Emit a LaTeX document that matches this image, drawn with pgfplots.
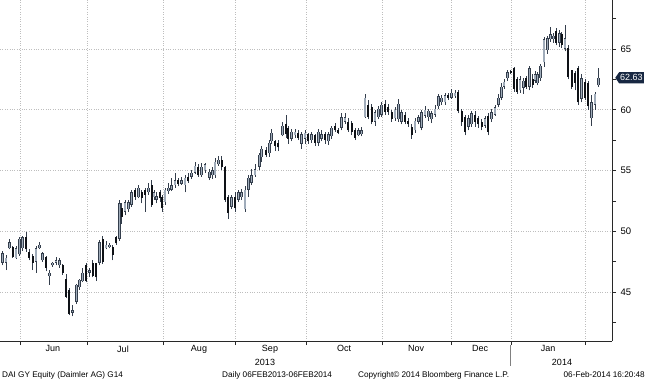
\documentclass[border=0pt]{standalone}
\usepackage{pgfplots}
\pgfplotsset{compat=1.18}
\usepackage{pgfplotstable}
\usepackage{fontspec}
\setmainfont{Liberation Sans}
\usetikzlibrary{shapes.symbols}

\definecolor{upfill}{RGB}{160,172,186}
\definecolor{upline}{RGB}{52,62,76}
\definecolor{downc}{RGB}{14,17,22}
\definecolor{gridc}{RGB}{190,190,190}
\definecolor{navy}{RGB}{24,40,66}
\definecolor{axc}{RGB}{40,40,40}

\pgfplotstableread{
x o h l c
2.7 47.4 48.4 47.2 48.2
6.0 47.4 48.05 46.8 47.8
9.3 48.6 49.4 48.5 49.1
12.7 48.7 48.8 47.8 47.9
16.0 47.8 48.8 47.7 48.6
19.3 48.1 49.5 48.0 49.4
22.7 48.6 49.6 48.4 49.5
26.0 49.5 49.9 48.3 48.5
29.3 48.3 48.5 47.6 47.8
32.7 48.0 48.1 46.8 47.4
36.0 47.5 48.8 46.6 48.6
39.3 48.6 49.1 48.5 48.9
42.7 47.6 48.3 47.5 48.2
46.0 47.9 48.0 46.7 47.0
49.3 46.3 46.8 45.6 46.6
52.7 47.2 47.5 47.1 47.4
56.0 47.4 47.9 47.2 47.6
59.3 47.2 47.8 47.0 47.6
62.7 47.2 47.3 46.4 46.6
66.0 46.1 46.5 44.5 44.6
69.3 45.2 45.3 43.1 43.2
72.7 43.3 43.9 43.0 43.5
76.7 44.2 45.7 44.0 45.6
79.3 45.4 46.1 45.2 46.0
82.7 45.9 47.0 45.8 46.6
86.0 47.2 47.4 45.8 45.9
89.3 46.6 47.0 46.2 46.8
92.7 47.4 47.6 46.2 46.3
96.0 47.4 47.4 45.9 46.2
99.3 47.4 49.3 47.2 49.1
102.7 49.4 49.6 47.3 47.5
106.0 48.6 49.2 48.5 48.9
109.3 48.7 49.0 48.6 48.9
112.7 48.7 48.9 47.6 48.05
116.0 49.5 49.6 48.9 49.0
119.3 49.4 52.6 49.2 52.3
121.7 51.9 52.3 50.6 51.2
125.0 51.6 52.6 51.3 52.4
128.3 51.8 52.6 51.6 52.4
131.7 52.2 53.4 52.0 53.2
135.0 53.4 53.6 52.6 52.8
138.3 52.8 53.8 52.7 53.6
141.7 53.2 53.4 52.3 52.7
145.0 53.4 53.6 51.6 53.0
148.3 53.2 54.0 53.0 53.6
151.7 53.8 54.2 52.0 52.2
154.0 52.8 53.4 52.6 53.2
156.7 52.6 53.2 52.3 52.9
160.0 53.2 53.4 52.4 52.7
162.3 52.8 53.0 51.6 51.9
165.0 52.4 53.6 52.2 53.4
168.3 53.3 54.0 53.1 53.6
171.7 53.4 54.4 53.3 53.8
175.0 53.8 54.8 53.6 54.2
178.3 54.2 54.4 53.7 53.9
181.7 53.9 54.5 53.8 54.2
185.0 53.8 54.6 53.2 54.4
188.3 54.5 54.8 54.0 54.1
191.7 54.5 55.0 54.3 54.8
195.0 54.8 55.7 54.7 55.4
198.3 55.3 55.5 54.5 54.6
201.7 54.6 55.6 54.5 55.3
205.0 55.0 55.6 54.8 55.5
209.3 54.4 55.1 54.2 54.9
212.7 54.6 55.3 54.3 55.0
215.0 54.6 56.0 54.4 55.7
218.3 55.5 56.2 55.4 55.9
221.7 55.9 56.2 55.0 55.3
225.0 55.3 55.4 52.4 52.6
228.3 52.8 53.0 51.0 51.5
231.7 52.0 53.0 51.8 52.8
235.0 52.8 53.2 51.6 51.9
238.3 52.6 53.4 52.4 53.2
241.7 52.8 53.5 52.6 53.2
245.0 51.8 53.7 51.6 53.4
248.3 53.4 54.6 52.8 54.4
251.7 54.0 55.1 53.8 54.6
255.0 54.6 55.5 54.5 55.1
259.3 55.3 56.4 55.0 56.3
261.7 56.1 57.0 55.7 56.8
266.0 56.7 56.9 56.1 56.3
269.3 56.4 57.5 56.1 57.3
271.7 57.4 58.4 57.2 58.1
275.0 57.4 57.5 56.6 57.0
278.3 57.3 57.5 56.6 56.9
282.7 57.9 59.0 57.8 58.7
286.0 58.8 59.6 57.7 58.0
288.3 58.5 58.7 57.2 57.6
291.7 57.6 58.4 57.4 58.2
295.0 57.9 58.4 57.7 58.2
298.3 58.1 58.3 57.5 57.7
301.7 57.2 58.2 56.8 58.0
305.0 57.6 58.3 57.2 58.1
308.3 58.0 58.1 57.2 57.4
311.7 57.5 58.2 57.3 58.0
315.0 57.9 58.0 57.0 57.3
318.3 57.3 58.4 57.0 58.2
321.7 57.6 58.3 57.4 58.0
325.0 58.0 58.2 57.2 57.5
328.3 57.4 58.2 57.1 58.0
331.7 57.8 58.7 57.6 58.5
335.0 58.7 58.9 58.2 58.3
338.3 58.3 58.5 58.0 58.1
341.7 58.5 59.7 58.3 59.4
345.0 59.0 59.7 58.8 59.4
348.3 59.0 59.3 58.2 58.3
351.7 58.9 59.1 57.9 58.2
355.0 58.3 58.5 57.5 57.7
358.3 57.9 58.5 57.8 58.3
361.7 58.0 58.6 57.8 58.3
365.0 59.4 61.3 59.3 61.0
368.3 60.4 60.8 59.2 59.4
371.7 60.2 60.5 58.8 59.0
375.0 59.0 60.0 58.7 59.8
378.3 59.4 60.3 59.2 60.1
381.7 59.6 60.6 59.4 60.4
385.0 60.5 60.8 59.6 59.8
388.3 60.2 60.5 59.6 59.8
391.7 59.8 60.0 59.0 59.2
395.0 59.3 60.2 59.1 60.0
398.3 59.2 60.9 59.0 60.5
401.7 59.0 60.0 58.8 59.8
405.0 59.6 59.8 58.8 59.0
408.3 59.1 59.3 58.6 58.8
411.7 58.6 58.8 57.6 57.9
415.0 58.3 59.3 58.1 59.1
418.3 59.0 59.6 58.8 59.4
421.7 58.5 60.0 58.3 59.8
425.0 59.5 60.3 59.3 60.0
428.3 59.4 60.1 59.1 59.9
431.7 59.2 59.9 58.9 59.7
435.0 59.6 60.4 59.4 60.1
438.3 60.3 61.3 60.1 61.1
441.7 60.6 61.2 60.4 61.0
445.0 60.6 61.4 60.4 61.2
448.3 61.2 61.4 60.8 61.0
451.7 61.0 61.7 60.9 61.4
455.0 61.1 61.6 61.0 61.4
458.3 61.5 61.6 59.7 59.9
461.7 59.9 60.1 58.7 59.0
465.0 59.4 59.6 57.9 58.2
468.3 58.6 59.6 58.3 59.3
471.7 58.8 59.9 58.6 59.7
475.0 59.6 59.9 58.6 59.0
478.3 59.3 59.5 58.5 58.8
481.7 59.0 59.2 58.3 58.6
485.0 58.7 59.5 58.5 59.3
488.3 59.5 59.7 57.9 58.2
491.7 59.2 60.1 59.0 59.8
495.0 59.6 60.4 59.5 60.2
498.3 60.4 61.3 60.2 61.0
501.7 61.0 62.2 60.8 61.9
504.0 61.9 62.5 61.7 62.3
507.3 62.6 63.3 62.4 63.1
510.7 63.2 63.3 62.9 63.0
514.0 63.4 63.5 61.5 61.7
517.3 62.5 62.7 61.3 61.5
520.0 61.6 62.8 61.4 62.5
523.3 61.8 62.6 61.3 62.4
526.0 62.6 62.8 61.7 61.9
529.3 61.9 63.6 61.6 63.4
532.7 62.5 62.9 61.8 62.0
535.0 62.4 63.2 62.2 62.9
537.3 62.2 63.1 62.0 62.9
540.7 62.6 63.8 62.4 63.6
544.0 63.9 66.0 63.5 65.8
547.3 64.9 66.1 64.6 65.9
550.7 65.8 66.8 65.6 66.2
553.3 65.8 66.3 65.5 66.1
556.0 66.5 66.7 65.3 65.5
559.3 65.5 66.6 65.2 66.3
561.7 66.2 66.4 65.1 65.3
565.0 65.0 67.0 64.8 65.9
568.3 65.1 65.3 62.5 62.7
571.7 63.3 63.3 61.7 61.9
575.0 63.0 63.2 61.6 62.2
578.3 63.4 63.6 60.4 60.6
581.7 60.9 62.9 60.6 62.6
585.0 62.3 62.5 60.8 61.0
588.3 62.2 62.4 60.0 60.3
591.7 59.3 61.2 58.7 60.6
595.0 60.4 61.5 60.0 61.3
598.3 62.0 63.4 61.9 62.63
}\candles

\begin{document}
\begin{tikzpicture}
\useasboundingbox (0,0) rectangle (645pt,380pt);
\begin{axis}[
  at={(0pt,39pt)}, anchor=south west,
  scale only axis, width=612pt, height=341pt,
  xmin=0, xmax=612, ymin=40.97, ymax=69.03,
  clip=false,
  axis x line*=bottom, axis y line*=right,
  axis line style={-, draw=axc, line width=0.8pt},
  xtick={20,87,163,235,306,382,451,511,585},
  xticklabels={},
  extra x ticks={53,123,199,270,344,416,480,548},
  extra x tick labels={Jun,Jul,Aug,Sep,Oct,Nov,Dec,Jan},
  extra x tick style={major tick length=0pt, grid=none},
  xmajorgrids, ymajorgrids,
  major grid style={gridc, dotted, line width=0.6pt},
  ytick={45,50,55,60,65},
  minor ytick={42.5,47.5,52.5,57.5,62.5,67.5},
  tick align=outside,
  major tick length=4pt, minor tick length=4pt,
  tick style={axc, line width=0.7pt},
  yticklabel style={font=\fontsize{9.5}{10}\selectfont, xshift=1pt},
  xticklabel style={font=\fontsize{9}{10}\selectfont, yshift=-1pt},
  /pgf/number format/assume math mode=true,
]
% wicks
\addplot[mark=none, draw=upline, line width=0.6pt, line cap=butt,
  quiver={u=0, v=\thisrow{h}-\thisrow{l}}]
  table[x=x, y=l] {\candles};
% down bodies
\addplot[mark=none, draw=downc, line width=2.1pt, line cap=butt,
  quiver={u=0, v={max(\thisrow{o}-\thisrow{c},0)}}]
  table[x=x, y=c] {\candles};
% up bodies outline
\addplot[mark=none, draw=upline, line width=2.5pt, line cap=butt,
  quiver={u=0, v={max(\thisrow{c}-\thisrow{o},0)}}]
  table[x=x, y=o] {\candles};
% up bodies fill
\addplot[mark=none, draw=upfill, line width=1.5pt, line cap=butt,
  quiver={u=0, v={max(\thisrow{c}-\thisrow{o}-0.08,0)}}]
  table[x=x, y expr={\thisrow{o}+0.04}] {\candles};

\node[signal, signal to=west, signal pointer angle=110, fill=navy, text=white,
  inner xsep=1pt, inner ysep=2.5pt, anchor=west, font=\fontsize{9}{10}\selectfont]
  at (axis cs:612,62.63) [xshift=3pt] {62.63};
\node[font=\fontsize{9}{10}\selectfont] at (axis cs:265,40.97) [yshift=-21pt] {2013};
\node[font=\fontsize{9}{10}\selectfont] at (axis cs:562,40.97) [yshift=-21pt] {2014};
\end{axis}
\draw[gray, line width=0.6pt] (510pt,35pt) -- (510pt,14pt);
\node[anchor=west, inner sep=0pt, font=\fontsize{8.2}{9}\selectfont] at (2pt,5pt) {DAI GY Equity (Daimler AG) G14};
\node[anchor=west, inner sep=0pt, font=\fontsize{8.2}{9}\selectfont] at (222pt,5pt) {Daily 06FEB2013-06FEB2014};
\node[anchor=west, inner sep=0pt, font=\fontsize{8.2}{9}\selectfont] at (358pt,5pt) {Copyright© 2014 Bloomberg Finance L.P.};
\node[anchor=east, inner sep=0pt, font=\fontsize{8.2}{9}\selectfont] at (645pt,5pt) {06-Feb-2014 16:20:48};
\end{tikzpicture}
\end{document}
